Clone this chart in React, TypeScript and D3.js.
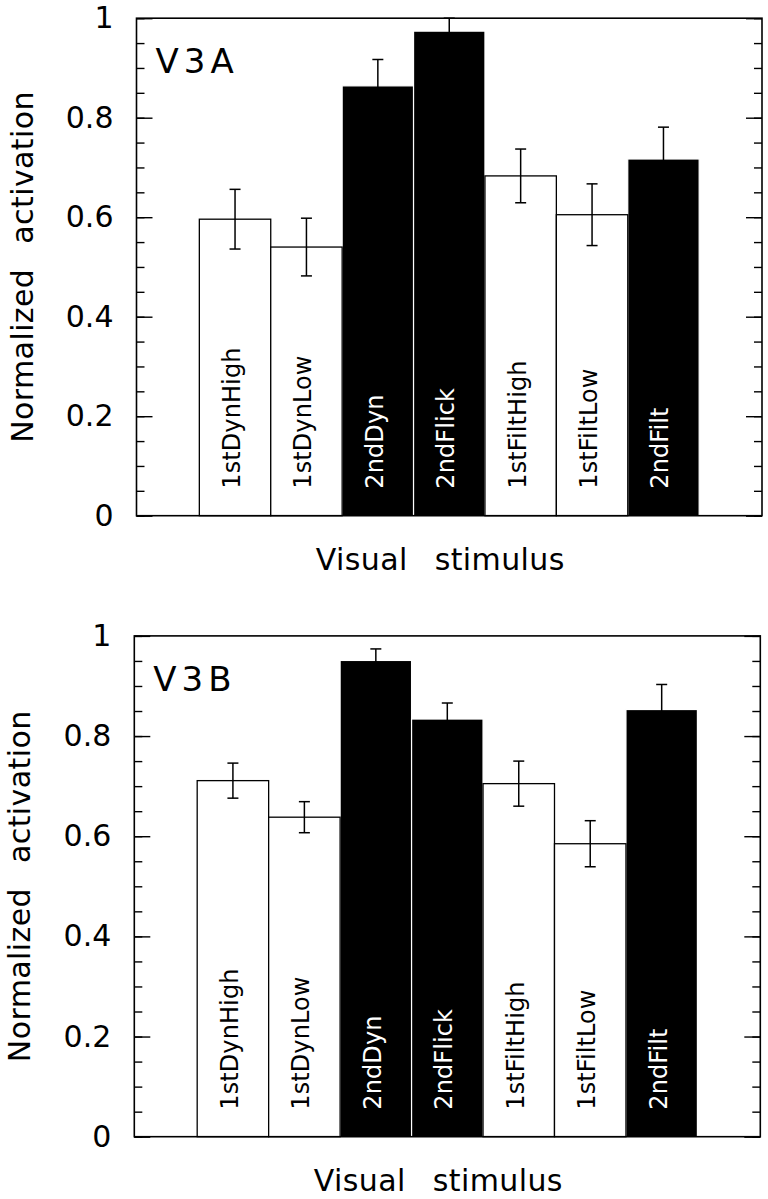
import React, { useEffect, useRef } from "react";
import * as d3 from "d3";

// conditions along the x axis, same order in both panels
const categories = ["1stDynHigh", "1stDynLow", "2ndDyn", "2ndFlick", "1stFiltHigh", "1stFiltLow", "2ndFilt"];
const barFills = ["white", "white", "black", "black", "white", "white", "black"];

// V3A (top panel)
const v3aMeans = [0.596, 0.540, 0.864, 0.974, 0.683, 0.605, 0.717];
const v3aErrors = [0.060, 0.058, 0.053, 0.026, 0.054, 0.062, 0.064];

// V3B (bottom panel)
const v3bMeans = [0.711, 0.638, 0.951, 0.834, 0.705, 0.585, 0.853];
const v3bErrors = [0.035, 0.031, 0.023, 0.032, 0.045, 0.046, 0.050];

const yTickValues = [0, 0.2, 0.4, 0.6, 0.8, 1];
const yTickLabels = ["0", "0.2", "0.4", "0.6", "0.8", "1"];

const FONT = '"DejaVu Sans", Verdana, sans-serif';

function drawPanel(svg, name, means, errors, box) {
  const { left, right, top, bottom } = box;
  const x = d3.scaleBand().domain(categories).range([left, right]).paddingInner(0).paddingOuter(0.88);
  const y = d3.scaleLinear().domain([0, 1]).range([bottom, top]);
  const rows = categories.map((c, i) => ({ c, m: means[i], e: errors[i], fill: barFills[i] }));
  const g = svg.append("g");

  // dark bars first, a thin white edge keeps neighbours apart
  g.selectAll(".bar-dark")
    .data(rows.filter(d => d.fill === "black"))
    .join("rect")
    .attr("x", d => x(d.c))
    .attr("y", d => y(d.m))
    .attr("width", x.bandwidth())
    .attr("height", d => y(0) - y(d.m))
    .attr("fill", "black")
    .attr("stroke", "white")
    .attr("stroke-width", 1.2);

  g.selectAll(".bar-light")
    .data(rows.filter(d => d.fill === "white"))
    .join("rect")
    .attr("x", d => x(d.c))
    .attr("y", d => y(d.m))
    .attr("width", x.bandwidth())
    .attr("height", d => y(0) - y(d.m))
    .attr("fill", "white")
    .attr("stroke", "black")
    .attr("stroke-width", 1.3);

  // frame
  g.append("rect")
    .attr("x", left).attr("y", top)
    .attr("width", right - left).attr("height", bottom - top)
    .attr("fill", "none").attr("stroke", "black").attr("stroke-width", 1.6);

  // inward ticks, both sides
  const minorL = d3.axisLeft(y).ticks(20).tickSize(-8).tickFormat(() => "");
  const minorR = d3.axisRight(y).ticks(20).tickSize(-8).tickFormat(() => "");
  const majorL = d3.axisLeft(y).tickValues(yTickValues).tickSize(-16).tickPadding(23)
    .tickFormat((d, i) => yTickLabels[i]);
  const majorR = d3.axisRight(y).tickValues(yTickValues).tickSize(-16).tickFormat(() => "");

  [[minorL, left], [majorL, left], [minorR, right], [majorR, right]].forEach(([ax, tx]) => {
    const a = g.append("g").attr("transform", `translate(${tx},0)`).call(ax);
    a.select(".domain").remove();
    a.selectAll("line").attr("stroke", "black").attr("stroke-width", 1.4);
    a.selectAll("text")
      .attr("font-family", FONT)
      .attr("font-size", 30)
      .attr("fill", "black");
  });

  // error bars
  const cap = 5.5;
  const eb = g.selectAll(".err").data(rows).join("g").attr("stroke", "black").attr("stroke-width", 1.5);
  eb.append("line")
    .attr("x1", d => x(d.c) + x.bandwidth() / 2).attr("x2", d => x(d.c) + x.bandwidth() / 2)
    .attr("y1", d => y(d.m - d.e)).attr("y2", d => y(d.m + d.e));
  eb.append("line")
    .attr("x1", d => x(d.c) + x.bandwidth() / 2 - cap).attr("x2", d => x(d.c) + x.bandwidth() / 2 + cap)
    .attr("y1", d => y(d.m + d.e)).attr("y2", d => y(d.m + d.e));
  eb.append("line")
    .attr("x1", d => x(d.c) + x.bandwidth() / 2 - cap).attr("x2", d => x(d.c) + x.bandwidth() / 2 + cap)
    .attr("y1", d => y(d.m - d.e)).attr("y2", d => y(d.m - d.e));

  // labels written up the bars
  g.selectAll(".bar-label")
    .data(rows)
    .join("text")
    .attr("transform", d => `translate(${x(d.c) + x.bandwidth() / 2 + 5},${y(0) - 27}) rotate(-90)`)
    .attr("text-anchor", "start")
    .attr("font-family", FONT)
    .attr("font-size", 24)
    .attr("letter-spacing", 0.1)
    .attr("fill", d => (d.fill === "black" ? "white" : "black"))
    .text(d => d.c);

  // area name
  g.append("text")
    .attr("x", left + 19)
    .attr("y", top + 55)
    .attr("font-family", FONT)
    .attr("font-size", 34)
    .attr("letter-spacing", 5)
    .text(name);

  // axis titles
  const yt = g.append("text")
    .attr("transform", `translate(${left - 104},${y(0.5)}) rotate(-90)`)
    .attr("text-anchor", "middle")
    .attr("font-family", FONT)
    .attr("font-size", 30)
    .attr("letter-spacing", 0.4);
  yt.append("tspan").text("Normalized");
  yt.append("tspan").attr("dx", 25).text("activation");

  const xt = g.append("text")
    .attr("x", (left + right) / 2 - 9)
    .attr("y", bottom + 54)
    .attr("text-anchor", "middle")
    .attr("font-family", FONT)
    .attr("font-size", 30)
    .attr("letter-spacing", 0.4);
  xt.append("tspan").text("Visual");
  xt.append("tspan").attr("dx", 27).text("stimulus");
}

export default function App() {
  const ref = useRef(null);

  useEffect(() => {
    const svg = d3.select(ref.current);
    svg.selectAll("*").remove();
    drawPanel(svg, "V3A", v3aMeans, v3aErrors, { left: 136.5, right: 762, top: 18.2, bottom: 515.7 });
    drawPanel(svg, "V3B", v3bMeans, v3bErrors, { left: 134.3, right: 760.3, top: 635.9, bottom: 1136.7 });
  }, []);

  return (
    <svg
      ref={ref}
      width={768}
      height={1199}
      style={{ position: "absolute", left: 0, top: 0, background: "white" }}
    />
  );
}
